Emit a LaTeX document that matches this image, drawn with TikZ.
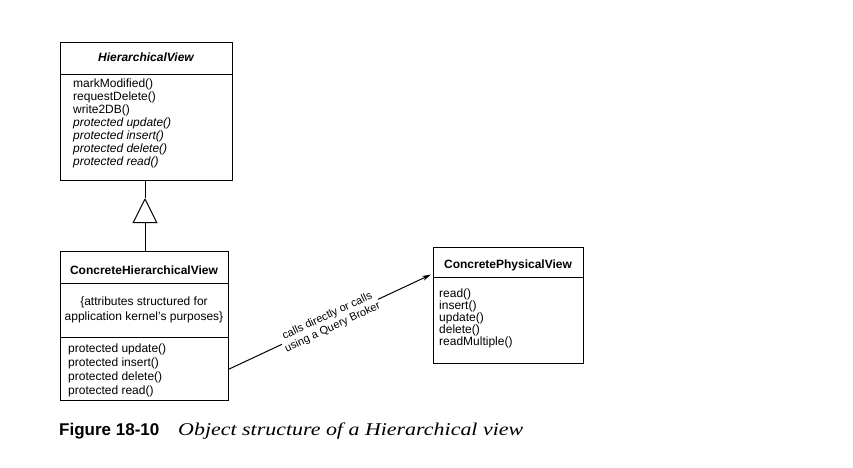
\documentclass[tikz,border=0pt]{standalone}
\usepackage{fontspec}
\setmainfont{Liberation Sans}
\newfontfamily\capserif{Liberation Serif}
\usetikzlibrary{arrows.meta,calc}
\begin{document}
\begin{tikzpicture}[x=1pt,y=-1pt,
  box/.style={draw, line width=1.1pt, inner sep=0pt, anchor=north west},
  ops/.style={font=\fontsize{12}{13}\selectfont, inner sep=0pt, align=left, anchor=north west},
  ttl/.style={font=\bfseries\fontsize{12}{13}\selectfont, inner sep=0pt},
  conn/.style={line width=1pt}]
\useasboundingbox (0,0) rectangle (853,467);
% HierarchicalView
\node[box, minimum width=172pt, minimum height=32pt] (hvt) at (60,42) {};
\node[ttl, font=\bfseries\itshape\fontsize{12}{13}\selectfont] (hvn) at (146,57) {HierarchicalView};
\node[box, minimum width=172pt, minimum height=106pt] (hvo) at (60,74) {};
\node[ops] (hvl) at (73,79) {markModified()\\requestDelete()\\write2DB()\\\textit{protected update()}\\\textit{protected insert()}\\\textit{protected delete()}\\\textit{protected read()}};
% ConcreteHierarchicalView
\node[box, minimum width=168pt, minimum height=32pt] (chvt) at (60,251) {};
\node[ttl] (chvn) at (144,270) {ConcreteHierarchicalView};
\node[box, minimum width=168pt, minimum height=54pt] (chva) at (60,283) {};
\node[ops, align=center, anchor=center, font=\fontsize{12}{15}\selectfont] (chval) at (144,310) {\{attributes structured for\\application kernel's purposes\}};
\node[box, minimum width=168pt, minimum height=63pt] (chvo) at (60,337) {};
\node[ops, font=\fontsize{12}{13.7}\selectfont] (chvl) at (68,344) {protected update()\\protected insert()\\protected delete()\\protected read()};
% ConcretePhysicalView
\node[box, minimum width=150pt, minimum height=30pt] (cpvt) at (433,247) {};
\node[ttl] (cpvn) at (508,265) {ConcretePhysicalView};
\node[box, minimum width=150pt, minimum height=86pt] (cpvo) at (433,277) {};
\node[ops, font=\fontsize{12}{12}\selectfont] (cpvl) at (439,289) {read()\\insert()\\update()\\delete()\\readMultiple()};
% generalization
\coordinate (apex) at (145,198);
\draw[conn] (apex |- hvo.south) -- (apex);
\draw[conn, -{Triangle[open, length=25pt, width=25pt, line width=1pt]}] (apex |- chvt.north) -- (apex);
% association
\draw[conn, -{Stealth[length=9pt, width=5pt]}] (chvo.east) -- node[sloped, fill=white, inner sep=1pt, align=center, font=\fontsize{11}{12.5}\selectfont] (lab) {calls directly or calls\\using a Query Broker} ([xshift=-2pt, yshift=-12pt]cpvt.west);
% caption
\node[inner sep=0pt, anchor=base west, font=\bfseries\fontsize{17}{20}\selectfont] (figno) at (59,435) {Figure 18-10};
\node[inner sep=0pt, anchor=base west, font=\capserif\itshape\fontsize{18}{20}\selectfont] (figcap) at (178,435) {\resizebox{345pt}{\height}{Object structure of a Hierarchical view}};
\end{tikzpicture}
\end{document}
